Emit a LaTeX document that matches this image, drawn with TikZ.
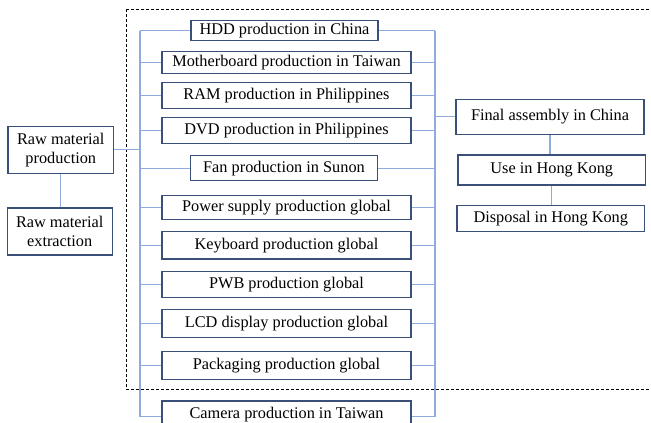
\documentclass[tikz,border=0pt]{standalone}
\usepackage{fontspec}
\setmainfont{Liberation Serif}
\definecolor{boxc}{HTML}{3B5078}
\definecolor{linec}{HTML}{8FAADC}
\begin{document}
\begin{tikzpicture}[x=1pt,y=-1pt,
  box/.style={draw=boxc, line width=1.1pt, fill=white, inner sep=0pt, align=center,
    font=\fontsize{16.3}{19}\selectfont},
  conn/.style={draw=linec, line width=1.3pt}]
\useasboundingbox (0,0) rectangle (651,423);
\clip (0,0) rectangle (651,423);
\draw[black, line width=0.9pt, dash pattern=on 3pt off 2pt] (126,9.3) rectangle (670,389.3);
% left bus and right bus coordinates
\coordinate (L) at (140,0);
\coordinate (R) at (435,0);
% component boxes
\node[box, minimum width=187pt, minimum height=19.5pt] (hdd) at (284.5,30.5) {HDD production in China};
\node[box, minimum width=249pt, minimum height=21.5pt] (mb) at (286.5,62.5) {Motherboard production in Taiwan};
\node[box, minimum width=249pt, minimum height=26pt] (ram) at (286.5,95.3) {RAM production in Philippines};
\node[box, minimum width=249pt, minimum height=26pt] (dvd) at (286.5,130.3) {DVD production in Philippines};
\node[box, minimum width=187pt, minimum height=25pt] (fan) at (284,168.2) {Fan production in Sunon};
\node[box, minimum width=249pt, minimum height=24.3pt] (psu) at (286.5,207.2) {Power supply production global};
\node[box, minimum width=249pt, minimum height=27.3pt] (kb) at (286.5,245.3) {Keyboard production global};
\node[box, minimum width=249pt, minimum height=26.3pt] (pwb) at (286.5,284.2) {PWB production global};
\node[box, minimum width=249pt, minimum height=28pt] (lcd) at (286.5,323.3) {LCD display production global};
\node[box, minimum width=249pt, minimum height=28.3pt] (pack) at (286.5,365.2) {Packaging production global};
\node[box, minimum width=249pt, minimum height=28pt] (cam) at (286.5,415) {Camera production in Taiwan};
% left boxes
\node[box, minimum width=105.7pt, minimum height=47.3pt] (rmp) at (60.8,149.7) {Raw material\\production};
\node[box, minimum width=104.7pt, minimum height=47pt] (rme) at (59.7,231.5) {Raw material\\extraction};
% right boxes
\node[box, minimum width=188pt, minimum height=35pt] (fin) at (550,116.8) {Final assembly in China};
\node[box, minimum width=187.7pt, minimum height=30pt] (use) at (551.8,170) {Use in Hong Kong};
\node[box, minimum width=187.7pt, minimum height=26pt] (dis) at (550.8,218.7) {Disposal in Hong Kong};
% connectors
\begin{scope}[on background layer/.style={}]
\end{scope}
\foreach \n in {hdd,mb,ram,dvd,fan,psu,kb,pwb,lcd,pack}{
  \draw[conn] (\n.west) -- (\n.west -| L);
  \draw[conn] (\n.east) -- (\n.east -| R);
}
\coordinate (camL) at ([yshift=-1.7pt]cam.west);
\coordinate (camR) at ([yshift=-1.7pt]cam.east);
\draw[conn] (camL) -- (camL -| L);
\draw[conn] (camR) -- (camR -| R);
\draw[conn] (hdd.west -| L) -- (camL -| L);
\draw[conn] (hdd.east -| R) -- (camR -| R);
\draw[conn] (rmp.east) -- (rmp.east -| L);
\draw[conn] (fin.west) -- (fin.west -| R);
\draw[conn] (rmp.south) -- (rmp.south |- rme.north);
\draw[conn] (fin.south) -- (fin.south |- use.north);
\draw[conn] (use.south) -- (use.south |- dis.north);
\end{tikzpicture}
\end{document}
